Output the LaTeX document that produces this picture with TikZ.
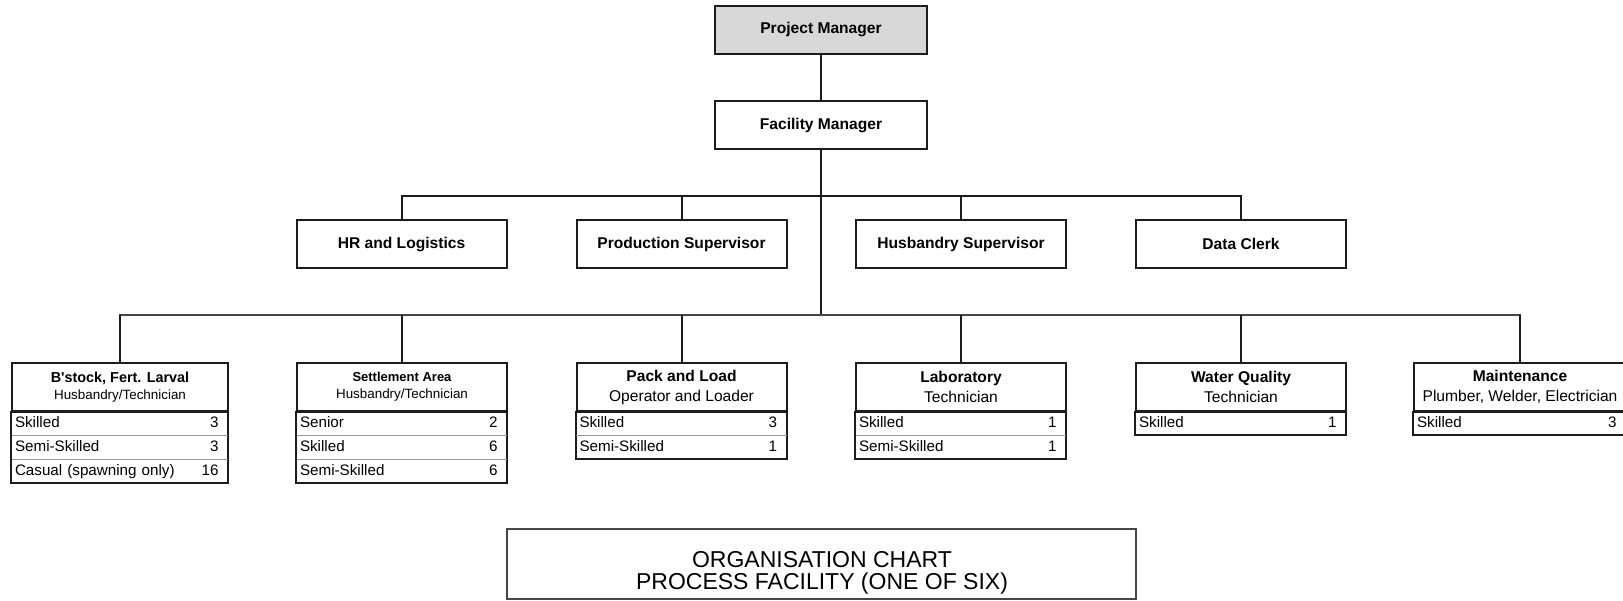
\documentclass[tikz,border=0pt]{standalone}
\usepackage{fontspec}
\setmainfont{Liberation Sans}
\definecolor{pmfill}{RGB}{216,216,216}
\definecolor{inkline}{RGB}{28,28,28}
\definecolor{busgrey}{RGB}{70,70,70}
\definecolor{rulegrey}{RGB}{150,150,150}
% one staff row: label on the left, head count on the right
\newcommand{\staffline}[2]{#1\hfill #2\hbox to 3.2pt{}}
\begin{document}
\begin{tikzpicture}[x=0.5pt,y=-0.5pt,
  conn/.style={draw=inkline,line width=1pt},
  lowbus/.style={draw=busgrey,line width=1pt},
  lead/.style={draw=inkline,line width=1pt,minimum width=106pt,minimum height=24pt,
    inner sep=0pt,font=\bfseries\fontsize{7.8}{9}\selectfont},
  post/.style={draw=inkline,line width=1pt,minimum width=105pt,minimum height=24pt,
    inner sep=0pt,font=\bfseries\fontsize{7.8}{9}\selectfont},
  unithead/.style={draw=inkline,line width=1pt,minimum width=#1,minimum height=24pt,
    inner sep=0pt,align=center,font=\fontsize{7.8}{10}\selectfont},
  smallhead/.style={draw=inkline,line width=1pt,minimum width=#1,minimum height=24pt,
    inner sep=0pt,align=center,font=\fontsize{6.7}{8.5}\selectfont},
  staffrow/.style={text width=#1,minimum height=12pt,inner ysep=0pt,inner xsep=1.5pt,
    text height=5.6pt,text depth=1.5pt,font=\fontsize{7.6}{9}\selectfont},
  frame/.style={draw=inkline,line width=1pt},
  rowrule/.style={draw=rulegrey,line width=0.5pt},
  titlebox/.style={draw=busgrey,line width=1pt,minimum width=314.5pt,minimum height=35pt,inner sep=0pt},
  titletext/.style={align=center,inner sep=0pt,font=\fontsize{11.5}{11}\selectfont}]
\useasboundingbox (0,0) rectangle (1623,600);

% management line
\node[lead,fill=pmfill] (pm) at (821,29.5) {Project Manager};
\node[lead] (fm) at (821,125) {Facility Manager};

% staff reporting to the facility manager
\node[post] (hr) at (401.5,244) {HR and Logistics};
\node[post] (ps) at (681.5,244) {Production Supervisor};
\node[post] (hs) at (961,244) {Husbandry Supervisor};
\node[post] (dc) at (1241,244) {Data Clerk};

% operating units: header plus staff rows
\node[smallhead=108pt] (bs) at (120,387)
  {{\bfseries\fontsize{7.2}{8.5}\selectfont B\textquotesingle stock, Fert. Larval}\\Husbandry/Technician};
\node[staffrow=105pt] (bs-r1) at (120,423) {\staffline{Skilled}{3}};
\node[staffrow=105pt] (bs-r2) at (120,447) {\staffline{Semi-Skilled}{3}};
\node[staffrow=105pt] (bs-r3) at (120,471) {\staffline{Casual (spawning only)}{16}};

\node[smallhead=105pt] (sa) at (402,387)
  {{\bfseries\fontsize{6.5}{8.5}\selectfont Settlement Area}\\Husbandry/Technician};
\node[staffrow=102pt] (sa-r1) at (402,423) {\staffline{Senior}{2}};
\node[staffrow=102pt] (sa-r2) at (402,447) {\staffline{Skilled}{6}};
\node[staffrow=102pt] (sa-r3) at (402,471) {\staffline{Semi-Skilled}{6}};

\node[unithead=105pt] (pl) at (681.5,387)
  {{\bfseries Pack and Load}\\Operator and Loader};
\node[staffrow=102pt] (pl-r1) at (681.5,423) {\staffline{Skilled}{3}};
\node[staffrow=102pt] (pl-r2) at (681.5,447) {\staffline{Semi-Skilled}{1}};

\node[unithead=105pt] (lab) at (961,387)
  {{\bfseries Laboratory}\\Technician};
\node[staffrow=102pt] (lab-r1) at (961,423) {\staffline{Skilled}{1}};
\node[staffrow=102pt] (lab-r2) at (961,447) {\staffline{Semi-Skilled}{1}};

\node[unithead=105pt] (wq) at (1241,387)
  {{\bfseries Water Quality}\\Technician};
\node[staffrow=102pt] (wq-r1) at (1241,423) {\staffline{Skilled}{1}};

\node[unithead=106pt] (mt) at (1520,387)
  {{\bfseries Maintenance}\\Plumber, Welder, Electrician};
\node[staffrow=103pt] (mt-r1) at (1520,423) {\staffline{Skilled}{3}};

% frames and rules of the staff tables
\draw[frame] (bs.south west) rectangle (bs-r3.south east);
\draw[rowrule] (bs-r1.south west) -- (bs-r1.south east);
\draw[rowrule] (bs-r2.south west) -- (bs-r2.south east);
\draw[frame] (sa.south west) rectangle (sa-r3.south east);
\draw[rowrule] (sa-r1.south west) -- (sa-r1.south east);
\draw[rowrule] (sa-r2.south west) -- (sa-r2.south east);
\draw[frame] (pl.south west) rectangle (pl-r2.south east);
\draw[rowrule] (pl-r1.south west) -- (pl-r1.south east);
\draw[frame] (lab.south west) rectangle (lab-r2.south east);
\draw[rowrule] (lab-r1.south west) -- (lab-r1.south east);
\draw[frame] (wq.south west) rectangle (wq-r1.south east);
\draw[frame] (mt.south west) rectangle (mt-r1.south east);

% connectors
\coordinate (upperbus) at (821,196);
\coordinate (lowerbus) at (821,315);
\draw[conn] (pm) -- (fm);
\draw[conn] (fm) -- (lowerbus);
\draw[conn] (hr.north) |- (upperbus) -| (dc.north);
\draw[conn] (ps.north) -- (ps.north |- upperbus);
\draw[conn] (hs.north) -- (hs.north |- upperbus);
\draw[lowbus] (bs.north) |- (lowerbus) -| (mt.north);
\draw[conn] (sa.north) -- (sa.north |- lowerbus);
\draw[conn] (pl.north) -- (pl.north |- lowerbus);
\draw[conn] (lab.north) -- (lab.north |- lowerbus);
\draw[conn] (wq.north) -- (wq.north |- lowerbus);
\draw[conn] (bs.north) -- (bs.north |- lowerbus);
\draw[conn] (mt.north) -- (mt.north |- lowerbus);

% chart title
\node[titlebox] (title) at (821.5,564) {};
\node[titletext] (titlelines) at (822,573) {ORGANISATION CHART\\PROCESS FACILITY (ONE OF SIX)};
\end{tikzpicture}
\end{document}
